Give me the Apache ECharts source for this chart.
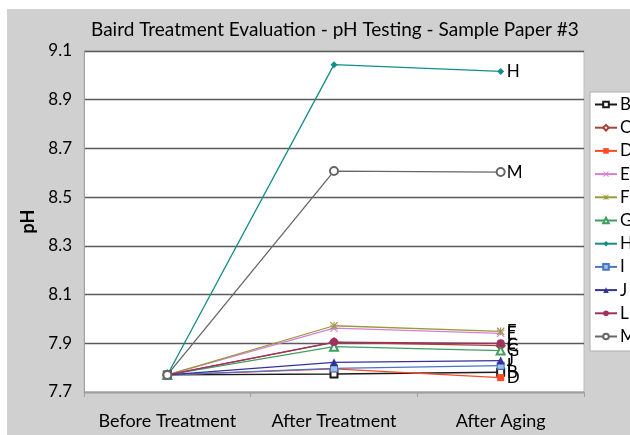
<!DOCTYPE html>
<html>
<head>
<meta charset="utf-8">
<script src="https://cdn.jsdelivr.net/npm/echarts@6/dist/echarts.min.js"></script>
<style>
  html, body { margin: 0; padding: 0; background: #fff; }
  #chart { width: 630px; height: 435px; }
</style>
</head>
<body>
<div id="chart"></div>
<script>
// stages along the x axis
const stages = ['Before Treatment', 'After Treatment', 'After Aging']

// pH readings per sample paper
const B = [7.77, 7.774, 7.781]
const C = [7.77, 7.904, 7.89]
const D = [7.77, 7.795, 7.759]
const E = [7.77, 7.962, 7.941]
const F = [7.77, 7.972, 7.949]
const G = [7.77, 7.886, 7.87]
const H = [7.77, 9.044, 9.016]
const I = [7.77, 7.797, 7.808]
const J = [7.77, 7.822, 7.829]
const L = [7.77, 7.905, 7.9]
const M = [7.77, 8.607, 8.603]

const yMin = 7.7
const yMax = 9.1

const xMark = 'path://M0,1L1,0L5,4L9,0L10,1L6,5L10,9L9,10L5,6L1,10L0,9L4,5Z'
const starMark = 'path://M0,1L1,0L5,4L9,0L10,1L6,5L10,9L9,10L5,6L1,10L0,9L4,5Z M4.4,0H5.6V10H4.4Z'

const samples = [
  { name: 'B', data: B, color: '#1a1a1a', symbol: 'emptyRect', size: 7 },
  { name: 'C', data: C, color: '#a8413a', symbol: 'emptyDiamond', size: 8 },
  { name: 'D', data: D, color: '#ff4a26', symbol: 'rect', size: 7 },
  { name: 'E', data: E, color: '#d67fd6', symbol: xMark, size: 8 },
  { name: 'F', data: F, color: '#99993d', symbol: starMark, size: 8 },
  { name: 'G', data: G, color: '#3f9f60', symbol: 'emptyTriangle', size: 8 },
  { name: 'H', data: H, color: '#148c8c', symbol: 'diamond', size: 7 },
  { name: 'I', data: I, color: '#4a74c6', symbol: 'rect', size: 7, fill: '#9cc2ea' },
  { name: 'J', data: J, color: '#333399', symbol: 'triangle', size: 8 },
  { name: 'L', data: L, color: '#a0305f', symbol: 'circle', size: 8 },
  { name: 'M', data: M, color: '#666666', symbol: 'emptyCircle', size: 8 }
]

const chart = echarts.init(document.getElementById('chart'))

chart.setOption({
  backgroundColor: '#fff',
  animation: false,
  textStyle: { fontFamily: 'Lato' },
  graphic: [{
    type: 'rect',
    z: -10,
    silent: true,
    shape: { x: 7, y: 9, width: 623, height: 426 },
    style: { fill: '#d0d0d0' }
  }],
  title: {
    text: 'Baird Treatment Evaluation - pH Testing - Sample Paper #3',
    left: 86,
    top: 15,
    textStyle: { fontSize: 19, fontWeight: 'normal', color: '#000', fontFamily: 'Lato' }
  },
  legend: {
    orient: 'vertical',
    left: 590,
    top: 92,
    padding: [4, 8, 6, 4],
    backgroundColor: '#fff',
    borderColor: '#b0b0b0',
    borderWidth: 1,
    itemWidth: 22,
    itemHeight: 7,
    itemGap: 6.2,
    textStyle: { fontSize: 17, color: '#000', padding: [0, 0, 0, -2] },
    data: samples.map(s => s.name)
  },
  grid: {
    left: 84,
    top: 51,
    width: 500,
    height: 341,
    show: true,
    backgroundColor: '#fff',
    borderColor: '#bcbcbc',
    borderWidth: 1
  },
  xAxis: {
    type: 'category',
    data: stages,
    boundaryGap: true,
    axisLine: { lineStyle: { color: '#a0a0a0', width: 1 } },
    axisTick: { show: true, alignWithLabel: false, length: 5, lineStyle: { color: '#a0a0a0' } },
    axisLabel: { fontSize: 18, color: '#000', margin: 20, interval: 0, hideOverlap: false }
  },
  yAxis: {
    type: 'value',
    min: yMin,
    max: yMax,
    interval: 0.1,
    name: 'pH',
    nameLocation: 'middle',
    nameGap: 46,
    nameTextStyle: { fontSize: 18, fontWeight: 'bold', color: '#000' },
    axisLine: { show: true, lineStyle: { color: '#a0a0a0' } },
    axisTick: { show: false },
    axisLabel: {
      fontSize: 17,
      color: '#000',
      margin: 12,
      formatter: v => (Math.round(v * 10) % 2 === 1 ? v.toFixed(1) : '')
    },
    splitLine: { show: true, lineStyle: { color: ['#5a5a5a', 'rgba(0,0,0,0)'], width: 1.3 } }
  },
  series: samples.map(s => ({
    name: s.name,
    type: 'line',
    data: s.data,
    symbol: s.symbol,
    symbolSize: s.size,
    lineStyle: { color: s.color, width: 1.3 },
    itemStyle: { color: s.fill || s.color, borderColor: s.color, borderWidth: s.fill ? 1 : (s.symbol.indexOf('empty') === 0 ? 1.2 : 0) },
    endLabel: { show: true, formatter: '{a}', color: '#000', fontSize: 17, distance: 6 }
  }))
})
</script>
</body>
</html>
